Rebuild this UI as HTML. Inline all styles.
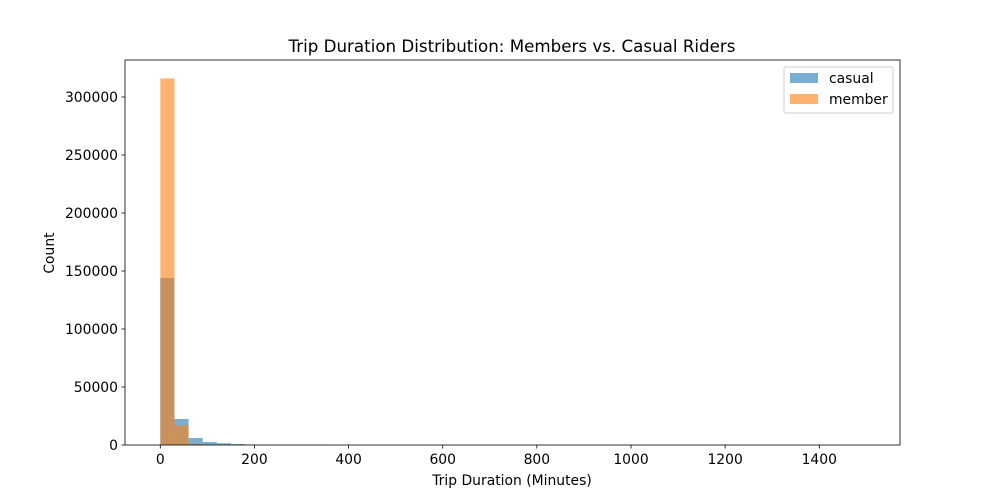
<!DOCTYPE html>
<html><head><meta charset="utf-8"><style>html,body{margin:0;background:#fff;overflow:hidden;width:1000px;height:500px}svg{display:block;font-family:"DejaVu Sans","Liberation Sans",sans-serif}</style></head>
<body>
<svg id="c" width="1000" height="500"></svg>
<script>
const binEdges0 = 0, binWidth = 30;
const casualCounts = [144000, 22400, 6000, 2600, 1500, 800, 300, 150, 80, 50, 30, 20, 10, 10, 5];
const memberCounts = [316000, 17000, 1000, 200, 100, 50, 20, 10];
const xTicks = [0, 200, 400, 600, 800, 1000, 1200, 1400];
const yTicks = [0, 50000, 100000, 150000, 200000, 250000, 300000];
const svg = document.getElementById('c');
const NS = 'http://www.w3.org/2000/svg';
const L=125,R=900,T=60,B=445;
const xs = v => 160.3 + v*0.4707;
const ys = v => B - v*348/300000;
function mk(t,a,p){const e=document.createElementNS(NS,t);for(const k in a)e.setAttribute(k,a[k]);(p||svg).appendChild(e);return e;}
function bars(arr,color,name){arr.forEach((v,i)=>{const x0=xs(binEdges0+i*binWidth),x1=xs(binEdges0+(i+1)*binWidth);
const r=mk('rect',{x:x0,y:ys(v),width:x1-x0,height:B-ys(v),fill:color,'fill-opacity':0.6});

});}
bars(casualCounts,'#1f77b4','casual');
bars(memberCounts,'#ff7f0e','member');
const fr=mk('rect',{x:L,y:T,width:R-L,height:B-T,fill:'none',stroke:'#000','stroke-width':0.8});

xTicks.forEach(t=>{const x=xs(t);mk('line',{x1:x,x2:x,y1:B,y2:B+3.5,stroke:'#000','stroke-width':0.8});
const tx=mk('text',{x:x,y:B+19,'font-size':13.9,'text-anchor':'middle'});tx.textContent=t;
});
yTicks.forEach(t=>{const y=ys(t);mk('line',{x1:L,x2:L-3.5,y1:y,y2:y,stroke:'#000','stroke-width':0.8});
const tx=mk('text',{x:L-7,y:y+5,'font-size':13.9,'text-anchor':'end'});tx.textContent=t;
});
</script>
<svg width="1000" height="500" style="position:absolute;left:0;top:0">
<text x="512" y="52" font-size="16.7" text-anchor="middle">Trip Duration Distribution: Members vs. Casual Riders</text>
<text x="512" y="485" font-size="13.9" text-anchor="middle">Trip Duration (Minutes)</text>
<text x="54" y="253" font-size="13.9" text-anchor="middle" transform="rotate(-90 54 253)">Count</text>
<g>
<rect x="784" y="67" width="109" height="46" fill="#fff" stroke="#ccc" rx="2"/>
<rect x="790" y="73" width="28" height="10" fill="#1f77b4" fill-opacity="0.6"/>
<text x="829" y="83" font-size="13.9">casual</text>
<rect x="790" y="94" width="28" height="10" fill="#ff7f0e" fill-opacity="0.6"/>
<text x="829" y="104" font-size="13.9">member</text>
</g>
</svg>
</body></html>
